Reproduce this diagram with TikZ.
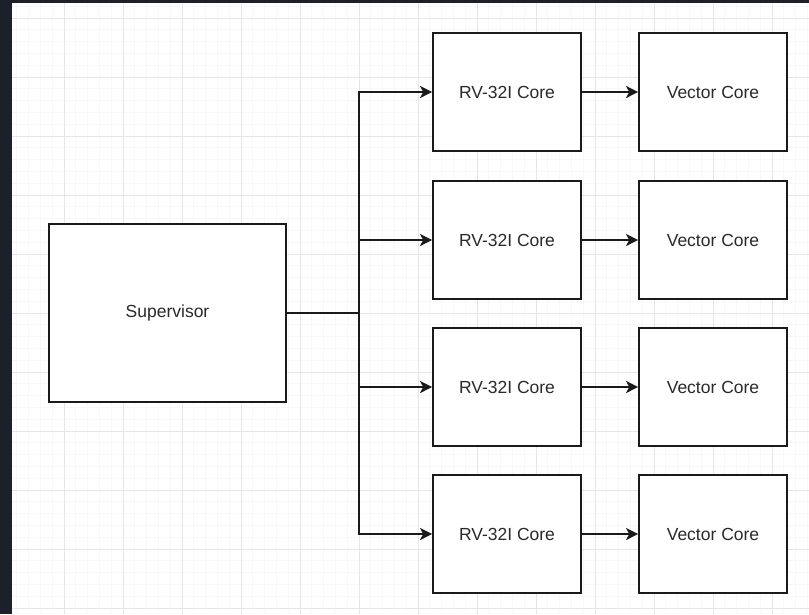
\documentclass[tikz,border=0pt]{standalone}
\usepackage{fontspec}
\setmainfont{Liberation Sans}
\usetikzlibrary{arrows.meta}
\definecolor{darkframe}{HTML}{1B202B}
\definecolor{gridmajor}{HTML}{E6E6E6}
\definecolor{gridminor}{HTML}{F8F8F8}
\definecolor{boxline}{HTML}{1A1A1A}
\definecolor{txt}{HTML}{2A2A2A}
\tikzset{
  blockbox/.style={draw=boxline, line width=1.7pt, fill=white, minimum height=118pt, inner sep=0pt,
     font=\fontsize{17.5pt}{19pt}\selectfont, text=txt},
  corebox/.style={blockbox, minimum width=148pt},
  link/.style={draw=boxline, line width=1.7pt, -{Stealth[length=12pt,width=12pt,inset=3pt]}},
  plain/.style={draw=boxline, line width=1.7pt}
}
\begin{document}
\begin{tikzpicture}[x=1pt,y=-1pt]
\useasboundingbox (0,0) rectangle (809,614);
\fill[darkframe] (0,0) rectangle (809,614);
\fill[white] (12,3) rectangle (809,614);
\begin{scope}
\clip (12,3) rectangle (809,614);
\foreach \i in {-5,...,64} {
  \draw[gridminor, line width=0.8pt] ({64+\i*11.8},3) -- ({64+\i*11.8},614);
  \draw[gridminor, line width=0.8pt] (12,{18+\i*11.8}) -- (809,{18+\i*11.8});
}
\foreach \i in {-1,...,13} {
  \draw[gridmajor, line width=1pt] ({64+\i*59},3) -- ({64+\i*59},614);
  \draw[gridmajor, line width=1pt] (12,{18+\i*59}) -- (809,{18+\i*59});
}
\end{scope}

\node[blockbox, minimum width=237pt, minimum height=178pt] (sup) at (167.5,313) {Supervisor};

\node[corebox] (rv1) at (507,92) {RV-32I Core};
\node[corebox] (rv2) at (507,240) {RV-32I Core};
\node[corebox] (rv3) at (507,387) {RV-32I Core};
\node[corebox] (rv4) at (507,534) {RV-32I Core};

\node[corebox] (vc1) at (713,92) {Vector Core};
\node[corebox] (vc2) at (713,240) {Vector Core};
\node[corebox] (vc3) at (713,387) {Vector Core};
\node[corebox] (vc4) at (713,534) {Vector Core};

\coordinate (junc) at (359,313);
\draw[plain] (sup.east) -- (junc);
\foreach \k in {1,2,3,4} {
  \draw[link] (junc) |- (rv\k.west);
  \draw[link] (rv\k.east) -- (vc\k.west);
}
\end{tikzpicture}
\end{document}
